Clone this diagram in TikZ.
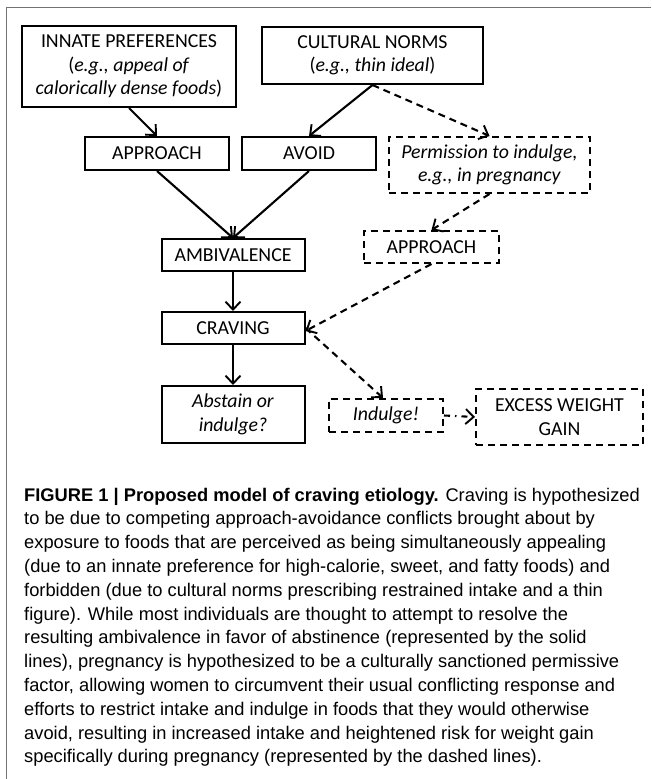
\documentclass[tikz,border=0pt]{standalone}
\usepackage{fontspec}
\setmainfont{Carlito}
\newfontfamily\capfont{Liberation Sans}
\usetikzlibrary{arrows.meta}
\begin{document}
\begin{tikzpicture}[x=1pt,y=-1pt,
  box/.style={draw=black,line width=2pt,align=center,inner sep=0pt,
    font=\fontsize{19.8}{23.5}\selectfont},
  dbox/.style={box,dash pattern=on 7pt off 5pt},
  arr/.style={line width=2.1pt,-{Straight Barb[length=8pt,width=15pt,line width=1.9pt]}},
  darr/.style={arr,dash pattern=on 7pt off 5pt},
  ddarr/.style={arr,dash pattern=on 6pt off 5pt on 1.5pt off 5pt},
  capline/.style={anchor=base west,inner sep=0pt,font=\capfont\fontsize{18.3}{20}\selectfont}]
\useasboundingbox (0,0) rectangle (651,779);
\draw[black!55,line width=1.5pt] (6.5,779) -- (6.5,7.5) -- (651,7.5);

\node[box,minimum width=214pt,minimum height=81pt] (innate) at (129,66.5)
  {INNATE PREFERENCES\\(\textit{e.g., appeal of}\\\textit{calorically dense foods})};
\node[box,minimum width=221pt,minimum height=57pt] (cultural) at (372.5,55.5)
  {CULTURAL NORMS\\(\textit{e.g., thin ideal})};
\node[box,minimum width=144pt,minimum height=33pt] (approach) at (157,153.5) {APPROACH};
\node[box,minimum width=134pt,minimum height=33pt] (avoid) at (309,153.5) {AVOID};
\node[dbox,minimum width=201pt,minimum height=56pt] (permission) at (489.5,165)
  {\textit{Permission to indulge,}\\\textit{e.g., in pregnancy}};
\node[box,minimum width=143pt,minimum height=32pt] (ambivalence) at (233,255) {AMBIVALENCE};
\node[dbox,minimum width=135pt,minimum height=32pt] (approach2) at (431.5,247) {APPROACH};
\node[box,minimum width=143pt,minimum height=32pt] (craving) at (233,328) {CRAVING};
\node[box,minimum width=143pt,minimum height=57pt] (abstain) at (233,414.5)
  {\textit{Abstain or}\\\textit{indulge?}};
\node[dbox,minimum width=114pt,minimum height=33pt] (indulge) at (386,415.5) {\textit{Indulge!}};
\node[dbox,minimum width=167pt,minimum height=56pt] (excess) at (559.5,417)
  {EXCESS WEIGHT\\GAIN};

\draw[arr] (innate.south) -- (approach.north);
\draw[arr] (cultural.south) -- (avoid.north);
\draw[darr] (cultural.south) -- (permission.north);
\draw[arr] (approach.south) -- (ambivalence.north);
\draw[arr] (avoid.south) -- (ambivalence.north);
\draw[arr] (ambivalence.south) -- (craving.north);
\draw[arr] (craving.south) -- (abstain.north);
\draw[darr] (permission.south) -- (approach2.north);
\draw[darr] (approach2.south) -- ([yshift=-3pt]craving.east);
\draw[darr] (craving.east) -- ([xshift=-3pt]indulge.north);
\draw[ddarr] (indulge.east) -- (excess.west);

\node[capline] (c1) at (24,501) {\textbf{FIGURE 1 | Proposed model of craving etiology.} Craving is hypothesized};
\node[capline] (c2) at (24,524.8) {to be due to competing approach-avoidance conflicts brought about by};
\node[capline] (c3) at (24,548.6) {exposure to foods that are perceived as being simultaneously appealing};
\node[capline] (c4) at (24,572.4) {(due to an innate preference for high-calorie, sweet, and fatty foods) and};
\node[capline] (c5) at (24,596.2) {forbidden (due to cultural norms prescribing restrained intake and a thin};
\node[capline] (c6) at (24,620) {figure). While most individuals are thought to attempt to resolve the};
\node[capline] (c7) at (24,643.8) {resulting ambivalence in favor of abstinence (represented by the solid};
\node[capline] (c8) at (24,667.6) {lines), pregnancy is hypothesized to be a culturally sanctioned permissive};
\node[capline] (c9) at (24,691.4) {factor, allowing women to circumvent their usual conflicting response and};
\node[capline] (c10) at (24,715.2) {efforts to restrict intake and indulge in foods that they would otherwise};
\node[capline] (c11) at (24,739) {avoid, resulting in increased intake and heightened risk for weight gain};
\node[capline] (c12) at (24,762.8) {specifically during pregnancy (represented by the dashed lines).};
\end{tikzpicture}
\end{document}
